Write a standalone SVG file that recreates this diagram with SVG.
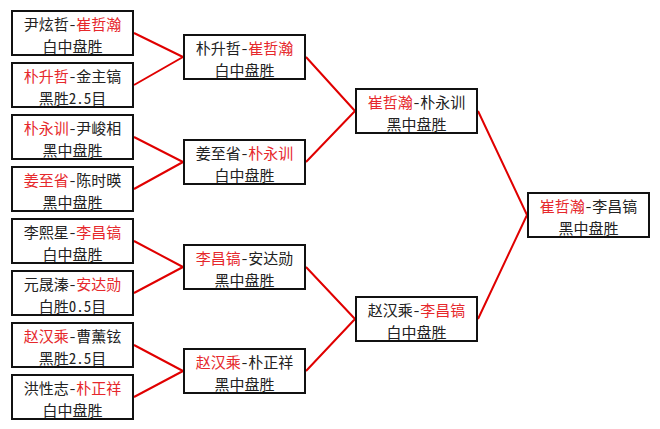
<svg xmlns="http://www.w3.org/2000/svg" width="660" height="429" viewBox="0 0 660 429">
<style>
.box{fill:#fff;stroke:#111;stroke-width:2}
.t{font-family:"Noto Sans CJK SC","Noto Sans",sans-serif;font-size:15px;fill:#222;text-anchor:middle;font-feature-settings:"hwid" 1}
.r{fill:#e6282c}
.c{stroke:#e00000;stroke-width:2;fill:none}
</style>
<rect width="660" height="429" fill="#fff"/>
<g id="connectors">
<path class="c" d="M134 33L183 57M134 85L183 57"/>
<path class="c" d="M134 137L183 162M134 189L183 162"/>
<path class="c" d="M134 241L183 267M134 293L183 267"/>
<path class="c" d="M134 345L183 371M134 397L183 371"/>
<path class="c" d="M306 57L355 111M306 162L355 111"/>
<path class="c" d="M306 267L355 319M306 371L355 319"/>
<path class="c" d="M478 111L527 215M478 319L527 215"/>
</g>
<g id="n1"><rect class="box" x="12" y="11" width="121" height="44"/><text class="t" x="72.5" y="30">尹炫哲-<tspan class="r">崔哲瀚</tspan></text><text class="t" x="72.5" y="52">白中盘胜</text></g>
<g id="n2"><rect class="box" x="12" y="63" width="121" height="44"/><text class="t" x="72.5" y="82"><tspan class="r">朴升哲</tspan>-金主镐</text><text class="t" x="72.5" y="104">黑胜2.5目</text></g>
<g id="n3"><rect class="box" x="12" y="115" width="121" height="44"/><text class="t" x="72.5" y="134"><tspan class="r">朴永训</tspan>-尹峻相</text><text class="t" x="72.5" y="156">黑中盘胜</text></g>
<g id="n4"><rect class="box" x="12" y="167" width="121" height="44"/><text class="t" x="72.5" y="186"><tspan class="r">姜至省</tspan>-陈时暎</text><text class="t" x="72.5" y="208">黑中盘胜</text></g>
<g id="n5"><rect class="box" x="12" y="219" width="121" height="44"/><text class="t" x="72.5" y="238">李熙星-<tspan class="r">李昌镐</tspan></text><text class="t" x="72.5" y="260">白中盘胜</text></g>
<g id="n6"><rect class="box" x="12" y="271" width="121" height="44"/><text class="t" x="72.5" y="290">元晟溱-<tspan class="r">安达勋</tspan></text><text class="t" x="72.5" y="312">白胜0.5目</text></g>
<g id="n7"><rect class="box" x="12" y="323" width="121" height="44"/><text class="t" x="72.5" y="342"><tspan class="r">赵汉乘</tspan>-曹薰铉</text><text class="t" x="72.5" y="364">黑胜2.5目</text></g>
<g id="n8"><rect class="box" x="12" y="375" width="121" height="44"/><text class="t" x="72.5" y="394">洪性志-<tspan class="r">朴正祥</tspan></text><text class="t" x="72.5" y="416">白中盘胜</text></g>
<g id="m1"><rect class="box" x="184" y="35" width="121" height="44"/><text class="t" x="244.5" y="54">朴升哲-<tspan class="r">崔哲瀚</tspan></text><text class="t" x="244.5" y="76">白中盘胜</text></g>
<g id="m2"><rect class="box" x="184" y="140" width="121" height="44"/><text class="t" x="244.5" y="159">姜至省-<tspan class="r">朴永训</tspan></text><text class="t" x="244.5" y="181">白中盘胜</text></g>
<g id="m3"><rect class="box" x="184" y="245" width="121" height="44"/><text class="t" x="244.5" y="264"><tspan class="r">李昌镐</tspan>-安达勋</text><text class="t" x="244.5" y="286">黑中盘胜</text></g>
<g id="m4"><rect class="box" x="184" y="349" width="121" height="44"/><text class="t" x="244.5" y="368"><tspan class="r">赵汉乘</tspan>-朴正祥</text><text class="t" x="244.5" y="390">黑中盘胜</text></g>
<g id="s1"><rect class="box" x="356" y="89" width="121" height="44"/><text class="t" x="416.5" y="108"><tspan class="r">崔哲瀚</tspan>-朴永训</text><text class="t" x="416.5" y="130">黑中盘胜</text></g>
<g id="s2"><rect class="box" x="356" y="297" width="121" height="44"/><text class="t" x="416.5" y="316">赵汉乘-<tspan class="r">李昌镐</tspan></text><text class="t" x="416.5" y="338">白中盘胜</text></g>
<g id="f"><rect class="box" x="528" y="193" width="121" height="44"/><text class="t" x="588.5" y="212"><tspan class="r">崔哲瀚</tspan>-李昌镐</text><text class="t" x="588.5" y="234">黑中盘胜</text></g>
</svg>
